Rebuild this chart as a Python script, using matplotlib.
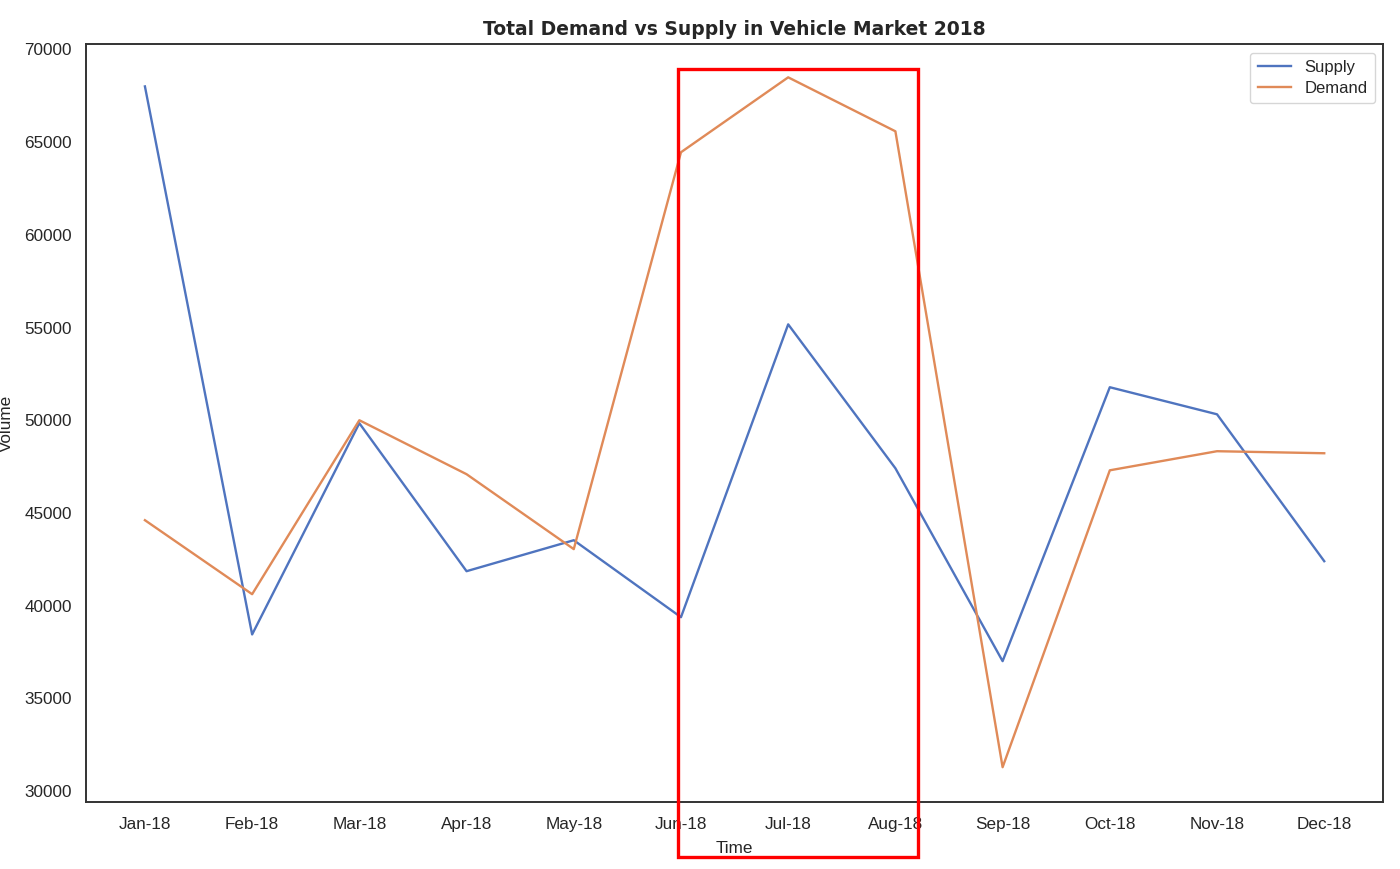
import matplotlib
matplotlib.use("Agg")
import matplotlib.pyplot as plt
from matplotlib.patches import Rectangle

months = ["Jan-18", "Feb-18", "Mar-18", "Apr-18", "May-18", "Jun-18",
          "Jul-18", "Aug-18", "Sep-18", "Oct-18", "Nov-18", "Dec-18"]
supply = [68000, 38450, 49840, 41860, 43530, 39380,
          55170, 47410, 37010, 51780, 50320, 42400]
demand = [44610, 40620, 50000, 47090, 43050, 64450,
          68490, 65580, 31290, 47300, 48330, 48220]

text_color = "#262626"
plt.rcParams["font.family"] = ["Liberation Sans", "DejaVu Sans"]

fig = plt.figure(figsize=(14, 8.69), dpi=100)
ax = fig.add_axes([0.0614, 0.077, 0.9266, 0.872])

x = list(range(len(months)))
ax.plot(x, supply, color="#4F74BF", lw=1.7, label="Supply")
ax.plot(x, demand, color="#E08A58", lw=1.7, label="Demand")

ax.set_xticks(x)
ax.set_xticklabels(months)
ax.set_ylim(29410, 70270)
ax.set_yticks(range(30000, 70001, 5000))
ax.tick_params(axis="both", length=0, labelsize=12.3, colors=text_color)
ax.tick_params(axis="x", pad=11)
ax.tick_params(axis="y", pad=10)

for s in ax.spines.values():
    s.set_color("#333333")
    s.set_linewidth(1.4)

ax.set_xlabel("Time", fontsize=12.3, color=text_color, labelpad=6)
ax.set_ylabel("Volume", fontsize=12.3, color=text_color)
ax.yaxis.set_label_coords(-0.0555, 0.5)
ax.set_title("Total Demand vs Supply in Vehicle Market 2018",
             fontsize=13.5, fontweight="bold", family="DejaVu Sans",
             color=text_color, pad=7)

leg = ax.legend(loc="upper right", fontsize=12, frameon=True,
                handlelength=2.0, borderpad=0.45, labelspacing=0.35)
leg.get_frame().set_edgecolor("#cccccc")
for t in leg.get_texts():
    t.set_color(text_color)

# highlight box around Jun–Aug
rect = Rectangle((4.97, 26440), 7.21 - 4.97, 68920 - 26440,
                 fill=False, edgecolor="#ff0000", lw=2.4, clip_on=False, zorder=5)
ax.add_patch(rect)

fig.savefig("out.png", dpi=100)
